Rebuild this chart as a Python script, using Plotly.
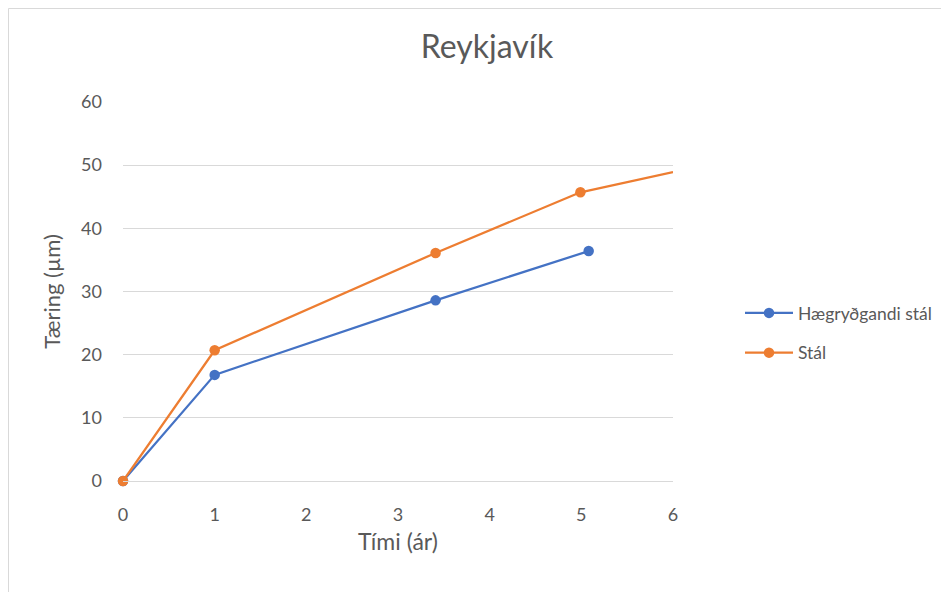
import plotly.graph_objects as go

title_text = "Reykjavík"
x_title = "Tími (ár)"
y_title = "Tæring (µm)"

blue_name = "Hægryðgandi stál"
blue_x = [0, 1, 3.41, 5.08]
blue_y = [0, 16.8, 28.6, 36.4]

orange_name = "Stál"
orange_x = [0, 1, 3.41, 4.99, 6.0]
orange_y = [0, 20.7, 36.1, 45.7, 48.9]
orange_marked = 4  # the last visible point (at the plot edge) has no marker

OFF = 8  # page body offset
W, H = 949, 592
L, T = 123 - OFF, 102 - OFF
R, B = W - (673 - OFF), H - (481 - OFF)
pw, ph = W - L - R, H - T - B

font_family = "Lato, 'Open Sans', sans-serif"
grey = "#595959"
blue = "#4472C4"
orange = "#ED7D31"
msize = 10.5

fig = go.Figure()
fig.add_trace(go.Scatter(
    x=blue_x, y=blue_y, name=blue_name, mode="lines+markers",
    line=dict(color=blue, width=2.25),
    marker=dict(color=blue, size=msize),
    legendgroup="a", cliponaxis=False,
))
fig.add_trace(go.Scatter(
    x=orange_x[orange_marked - 1:], y=orange_y[orange_marked - 1:], mode="lines",
    line=dict(color=orange, width=2.25), showlegend=False, legendgroup="b",
    hoverinfo="skip",
))
fig.add_trace(go.Scatter(
    x=orange_x[:orange_marked], y=orange_y[:orange_marked], name=orange_name,
    mode="lines+markers",
    line=dict(color=orange, width=2.25),
    marker=dict(color=orange, size=msize),
    legendgroup="b", cliponaxis=False,
))

# outer chart border (light grey) at the figure edge
fig.add_shape(type="rect", xref="paper", yref="paper",
              x0=-(L - 0.5) / pw, x1=(W + 20 - L) / pw,
              y0=-(B + 20) / ph, y1=(ph + T - 0.5) / ph,
              line=dict(color="#d9d9d9", width=1), fillcolor="rgba(0,0,0,0)",
              layer="below")

fig.update_layout(
    width=W, height=H,
    margin=dict(l=L, r=R, t=T, b=B, pad=0),
    paper_bgcolor="white", plot_bgcolor="white",
    font=dict(family=font_family, color=grey, size=17),
    title=dict(text=title_text, x=(487 - OFF) / W, xanchor="center",
               y=1 - (47 - OFF) / H, yanchor="middle",
               font=dict(size=32, color=grey, family=font_family)),
    xaxis=dict(range=[0, 6], dtick=1, tick0=0, showgrid=False, zeroline=False,
               showline=True, linecolor="#d9d9d9", linewidth=1,
               ticks="", ticklabelstandoff=17,
               title=dict(text=x_title, font=dict(size=23, color=grey), standoff=10),
               tickfont=dict(size=18, color=grey)),
    yaxis=dict(range=[0, 60], dtick=10, showgrid=True, gridcolor="#d9d9d9", gridwidth=1,
               zeroline=False, showline=False, ticks="", ticklabelstandoff=20,
               title=dict(text=y_title, font=dict(size=22, color=grey), standoff=14),
               tickfont=dict(size=18, color=grey)),
    legend=dict(x=(740 - OFF - L) / pw, xanchor="left",
                y=(ph - (333 - OFF - T)) / ph, yanchor="middle",
                font=dict(size=17.5, color=grey), tracegroupgap=14,
                itemwidth=48,
                bgcolor="rgba(0,0,0,0)"),
    showlegend=True,
)

fig.write_html("out.html")
